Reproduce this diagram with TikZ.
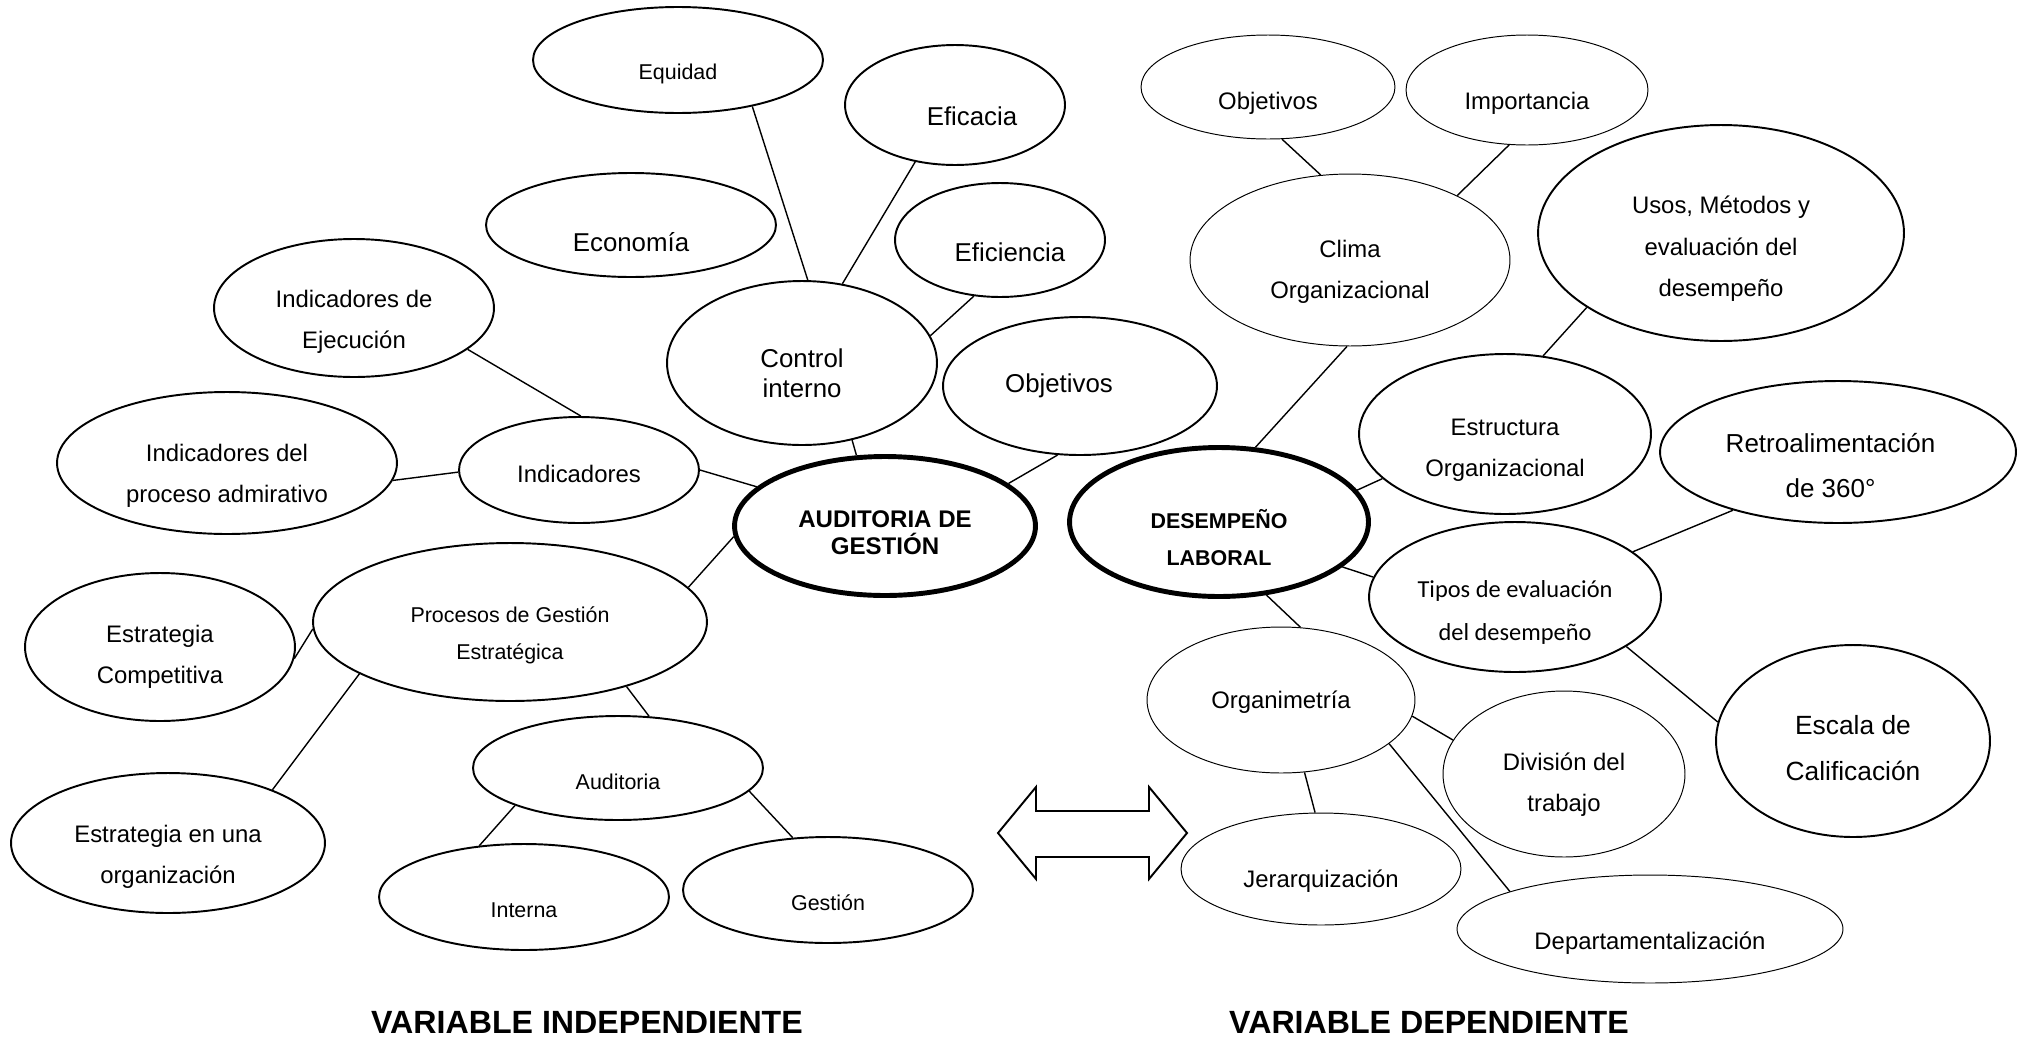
\documentclass[tikz,border=0pt]{standalone}
\usepackage{fontspec}
\setmainfont{Liberation Sans}
\newfontfamily\calibri{Carlito}
\usetikzlibrary{shapes.geometric}
% lowers the text of a bubble by half of #1
\newcommand\lowr[1]{\rule{0pt}{\dimexpr0.73em+#1\relax}}

\begin{document}
\begin{tikzpicture}[x=0.02cm, y=-0.02cm,
    bub/.style={ellipse, draw, line width=1.1pt, inner sep=0pt, align=center},
    thinbub/.style={bub, line width=0.55pt},
    core/.style={bub, line width=2.8pt},
    link/.style={line width=0.8pt},
    fbig/.style={font=\fontsize{14.7}{24.4}\selectfont},
    fmid/.style={font=\fontsize{13.6}{23.5}\selectfont},
    fsml/.style={font=\fontsize{12.2}{21}\selectfont}]
  \useasboundingbox (0,0) rectangle (2024,1038);

  % variable independiente
  \node[core, font=\bfseries\fontsize{13.7}{15.3}\selectfont, minimum width=6.02cm, minimum height=2.78cm] (aud) at (885,526) {\lowr{.24cm}AUDITORIA DE\\GESTIÓN};
  \node[bub, fsml, minimum width=5.8cm, minimum height=2.12cm] (equ) at (678,60) {\lowr{.56cm}Equidad};
  \node[bub, fbig, minimum width=4.4cm, minimum height=2.4cm] (efa) at (955,105) {\lowr{.44cm}\hspace*{.68cm}Eficacia};
  \node[bub, fbig, minimum width=5.8cm, minimum height=2.08cm] (eco) at (631,225) {\lowr{.68cm}Economía};
  \node[bub, fbig, minimum width=4.2cm, minimum height=2.28cm] (efi) at (1000,240) {\lowr{.48cm}\hspace*{.4cm}Eficiencia};
  \node[bub, font=\fontsize{14.7}{17}\selectfont, minimum width=5.4cm, minimum height=3.28cm] (ctrl) at (802,363) {\lowr{.4cm}Control\\interno};
  \node[bub, fbig, minimum width=5.48cm, minimum height=2.76cm] (obj) at (1080,386) {Objetivos\hspace*{.84cm}};
  \node[bub, fmid, minimum width=5.6cm, minimum height=2.76cm] (iej) at (354,308) {\lowr{.56cm}Indicadores de\\Ejecución};
  \node[bub, fmid, minimum width=6.8cm, minimum height=2.84cm] (ipa) at (227,463) {\lowr{.52cm}Indicadores del\\proceso admirativo};
  \node[bub, fmid, minimum width=4.8cm, minimum height=2.12cm] (ind) at (579,470) {\lowr{.16cm}Indicadores};
  \node[bub, fsml, minimum width=7.88cm, minimum height=3.16cm] (pge) at (510,622) {\lowr{.52cm}Procesos de Gestión\\Estratégica};
  \node[bub, fmid, minimum width=5.4cm, minimum height=2.96cm] (ecomp) at (160,647) {\lowr{.4cm}Estrategia\\Competitiva};
  \node[bub, fmid, minimum width=6.28cm, minimum height=2.8cm] (eorg) at (168,843) {\lowr{.56cm}Estrategia en una\\organización};
  \node[bub, fsml, minimum width=5.8cm, minimum height=2.08cm] (audi) at (618,768) {\lowr{.56cm}Auditoria};
  \node[bub, fsml, minimum width=5.8cm, minimum height=2.12cm] (int) at (524,897) {\lowr{.52cm}Interna};
  \node[bub, fsml, minimum width=5.8cm, minimum height=2.12cm] (ges) at (828,890) {\lowr{.52cm}Gestión};

  % variable dependiente
  \node[core, font=\bfseries\fontsize{12.2}{21}\selectfont, minimum width=5.98cm, minimum height=2.98cm] (des) at (1219,522) {\lowr{.68cm}DESEMPEÑO\\LABORAL};
  \node[thinbub, fmid, minimum width=5.08cm, minimum height=2.08cm] (objr) at (1268,87) {\lowr{.64cm}Objetivos};
  \node[thinbub, fmid, minimum width=4.84cm, minimum height=2.2cm] (imp) at (1527,90) {\lowr{.52cm}Importancia};
  \node[thinbub, fmid, minimum width=6.4cm, minimum height=3.44cm] (cli) at (1350,260) {\lowr{.48cm}Clima\\Organizacional};
  \node[bub, fmid, minimum width=7.32cm, minimum height=4.32cm] (uso) at (1721,233) {\lowr{.64cm}Usos, Métodos y\\evaluación del\\desempeño};
  \node[bub, fmid, minimum width=5.84cm, minimum height=3.2cm] (est) at (1505,434) {\lowr{.64cm}Estructura\\Organizacional};
  \node[bub, font=\fontsize{14.8}{25.5}\selectfont, minimum width=7.12cm, minimum height=2.84cm] (ret) at (1838,452) {\lowr{.56cm}Retroalimentación\hspace*{.3cm}\\de 360°\hspace*{.3cm}};
  \node[bub, font=\calibri\fontsize{13.9}{24.4}\selectfont, minimum width=5.84cm, minimum height=3cm] (tip) at (1515,597) {\lowr{.6cm}Tipos de evaluación\\del desempeño};
  \node[thinbub, fmid, minimum width=5.36cm, minimum height=2.92cm] (org) at (1281,700) {\lowr{.08cm}Organimetría};
  \node[thinbub, fmid, minimum width=4.84cm, minimum height=3.32cm] (div) at (1564,774) {\lowr{.44cm}División del\\trabajo};
  \node[bub, font=\fontsize{15}{26.6}\selectfont, minimum width=5.48cm, minimum height=3.84cm] (esc) at (1853,741) {\lowr{.28cm}Escala de\\Calificación};
  \node[thinbub, fmid, minimum width=5.6cm, minimum height=2.24cm] (jer) at (1321,869) {\lowr{.48cm}Jerarquización};
  \node[thinbub, fmid, minimum width=7.72cm, minimum height=2.16cm] (dep) at (1650,929) {\lowr{.58cm}Departamentalización};

  % enlaces
  \draw[link] (equ.-32) -- (ctrl.86);
  \draw[link] (efa.-125) -- (ctrl.63);
  \draw[link] (efi.-115) -- (ctrl.12);
  \draw[link] (iej.-20) -- (ind.88);
  \draw[link] (ipa.-6) -- (ind.181);
  \draw[link] (ind.0) -- (aud.163);
  \draw[link] (ctrl.-57) -- (aud.112);
  \draw[link] (obj.-108) -- (aud.19);
  \draw[link] (aud.184) -- (pge.11);
  \draw[link] (pge.182) -- (ecomp.-5);
  \draw[link] (pge.199) -- (eorg.27);
  \draw[link] (pge.-29) -- (audi.59);
  \draw[link] (audi.200) -- (int.131);
  \draw[link] (audi.-10) -- (ges.124);
  \draw[link] (objr.-75) -- (cli.109);
  \draw[link] (imp.-108) -- (cli.31);
  \draw[link] (cli.-92) -- (des.64);
  \draw[link] (uso.209) -- (est.64);
  \draw[link] (est.200) -- (des.13);
  \draw[link] (ret.209) -- (tip.21);
  \draw[link] (des.-20) -- (tip.172);
  \draw[link] (des.-57) -- (org.75);
  \draw[link] (tip.-24) -- (esc.172);
  \draw[link] (org.-7) -- (div.163);
  \draw[link] (org.-72) -- (jer.96);
  \draw[link] (org.-22) -- (dep.165);

  % flecha doble
  \draw[line width=1.1pt] (998,833) -- (1036,787) -- (1036,811) -- (1149,811) -- (1149,787) -- (1187,833)
    -- (1149,879) -- (1149,857) -- (1036,857) -- (1036,879) -- cycle;

  \node[font=\bfseries\fontsize{18.3}{20}\selectfont] (vind) at (587,1022) {VARIABLE INDEPENDIENTE};
  \node[font=\bfseries\fontsize{18.3}{20}\selectfont] (vdep) at (1429,1022) {VARIABLE DEPENDIENTE};
\end{tikzpicture}
\end{document}
